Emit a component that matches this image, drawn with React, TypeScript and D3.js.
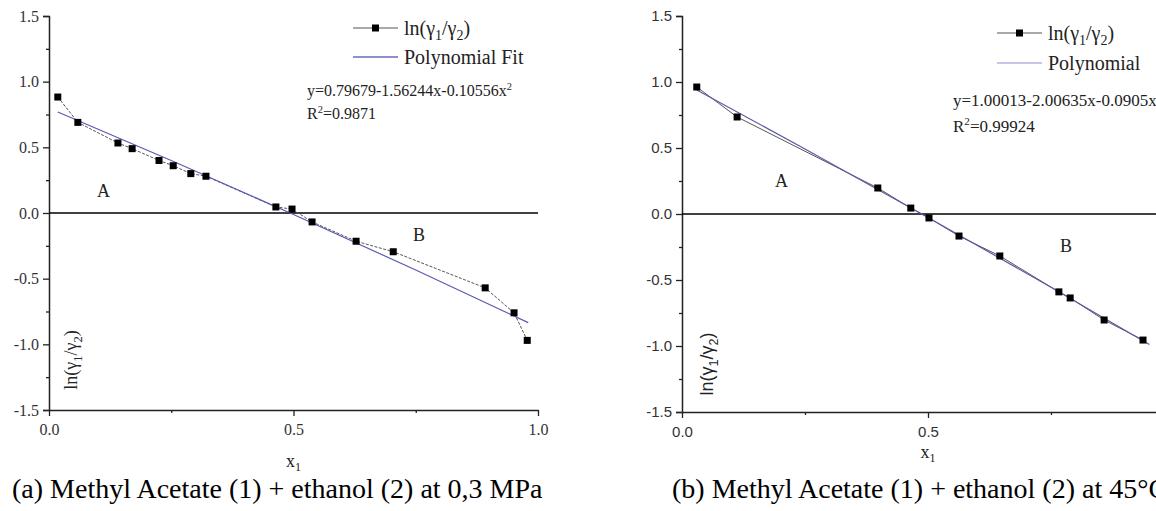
import * as d3 from 'd3';
import React, { useEffect, useRef } from 'react';

// axis ticks shared by both panels
const xTicks = [0, 0.5, 1.0];
const xMinorTicks = [0.25, 0.75];
const yTicks = [-1.5, -1.0, -0.5, 0.0, 0.5, 1.0, 1.5];
const yMinorTicks = [-1.25, -0.75, -0.25, 0.25, 0.75, 1.25];

// (a) 0,3 MPa measured points
const pointsA = [
    { x: 0.018, y: 0.883 },
    { x: 0.059, y: 0.69 },
    { x: 0.141, y: 0.533 },
    { x: 0.17, y: 0.49 },
    { x: 0.225, y: 0.40 },
    { x: 0.254, y: 0.36 },
    { x: 0.29, y: 0.30 },
    { x: 0.321, y: 0.28 },
    { x: 0.464, y: 0.046 },
    { x: 0.497, y: 0.03 },
    { x: 0.538, y: -0.068 },
    { x: 0.628, y: -0.215 },
    { x: 0.704, y: -0.295 },
    { x: 0.892, y: -0.57 },
    { x: 0.951, y: -0.76 },
    { x: 0.978, y: -0.97 }
];

// (a) polynomial fit
const fitA = [
    { x: 0.018, y: 0.769 },
    { x: 0.25, y: 0.40 },
    { x: 0.5, y: -0.011 },
    { x: 0.75, y: -0.434 },
    { x: 0.98, y: -0.835 }
];

// (b) 45 °C measured points
const pointsB = [
    { x: 0.03, y: 0.962 },
    { x: 0.112, y: 0.735 },
    { x: 0.398, y: 0.197 },
    { x: 0.465, y: 0.045 },
    { x: 0.502, y: -0.03 },
    { x: 0.563, y: -0.167 },
    { x: 0.646, y: -0.318 },
    { x: 0.766, y: -0.59 },
    { x: 0.789, y: -0.636 },
    { x: 0.858, y: -0.803 },
    { x: 0.937, y: -0.955 }
];

const fitB = [
    { x: 0.03, y: 0.94 },
    { x: 0.25, y: 0.493 },
    { x: 0.5, y: -0.026 },
    { x: 0.75, y: -0.555 },
    { x: 0.95, y: -0.988 }
];

const legendA = ['Polynomial Fit'];
const legendB = ['Polynomial'];
const equationA = ['y=0.79679-1.56244x-0.10556x', '0.9871'];
const equationB = ['y=1.00013-2.00635x-0.0905x', '0.99924'];
const captionA = '(a) Methyl Acetate (1) + ethanol (2) at 0,3 MPa';
const captionB = '(b) Methyl Acetate (1) + ethanol (2) at 45°C';

const SERIF = '"Liberation Serif", "Times New Roman", serif';
const SANS = '"Liberation Sans", Arial, sans-serif';

// writes ln(γ1/γ2) with subscripts
const lnGamma = (t, size) => {
    const sub = size * 0.7;
    const off = size * 0.25;
    t.append('tspan').text('ln(γ');
    t.append('tspan').attr('font-size', sub).attr('dy', off).text('1');
    t.append('tspan').attr('dy', -off).text('/γ');
    t.append('tspan').attr('font-size', sub).attr('dy', off).text('2');
    t.append('tspan').attr('dy', -off).text(')');
};

const drawPanel = (svg, p) => {
    const x = d3.scaleLinear().domain([0, 1]).range([p.left, p.right]);
    const y = d3.scaleLinear().domain([-1.5, 1.5]).range([p.bottom, p.top]);
    const g = svg.append('g');
    const fmt = d => d.toFixed(1);

    const yAxis = g.append('g')
        .attr('transform', 'translate(' + p.left + ',0)')
        .call(d3.axisLeft(y).tickValues(yTicks).tickFormat(fmt).tickSize(6).tickPadding(p.yPad));
    g.append('g')
        .attr('transform', 'translate(' + p.left + ',0)')
        .call(d3.axisLeft(y).tickValues(yMinorTicks).tickFormat('').tickSize(3))
        .select('.domain').remove();
    const xAxis = g.append('g')
        .attr('transform', 'translate(0,' + p.bottom + ')')
        .call(d3.axisBottom(x).tickValues(xTicks).tickFormat(fmt).tickSize(6).tickPadding(p.xPad).tickSizeOuter(0));
    g.append('g')
        .attr('transform', 'translate(0,' + p.bottom + ')')
        .call(d3.axisBottom(x).tickValues(xMinorTicks).tickFormat('').tickSize(3))
        .select('.domain').remove();
    [yAxis, xAxis].forEach(a => {
        a.selectAll('text').attr('font-family', p.tickFont).attr('font-size', p.tickSize).attr('fill', '#333');
        a.select('.domain').attr('stroke', '#222').attr('stroke-width', 1.5);
        a.selectAll('.tick line').attr('stroke', '#222').attr('stroke-width', 1.3);
    });
    g.selectAll('.tick line').attr('stroke', '#222').attr('stroke-width', 1.3);

    // zero line
    g.append('line')
        .attr('x1', p.left).attr('x2', p.right)
        .attr('y1', y(0)).attr('y2', y(0))
        .attr('stroke', '#000').attr('stroke-width', 1.6);

    const line = d3.line().x(d => x(d.x)).y(d => y(d.y));
    g.append('path').datum(p.points)
        .attr('fill', 'none').attr('stroke', '#555').attr('stroke-width', 1)
        .attr('stroke-dasharray', p.dash)
        .attr('d', line);
    g.append('path').datum(p.fit)
        .attr('fill', 'none').attr('stroke', p.fitColor).attr('stroke-width', 1.2)
        .attr('d', d3.line().x(d => x(d.x)).y(d => y(d.y)).curve(d3.curveMonotoneX));
    g.selectAll('rect.pt').data(p.points).enter().append('rect')
        .attr('class', 'pt')
        .attr('x', d => x(d.x) - 3.5).attr('y', d => y(d.y) - 3.5)
        .attr('width', 7).attr('height', 7).attr('fill', '#000');

    // legend
    const lg = p.legend;
    g.append('line').attr('x1', lg.x).attr('x2', lg.x + 45).attr('y1', lg.y1).attr('y2', lg.y1)
        .attr('stroke', '#555').attr('stroke-width', 1.2);
    g.append('rect').attr('x', lg.x + 19).attr('y', lg.y1 - 3.5).attr('width', 7).attr('height', 7).attr('fill', '#000');
    lnGamma(g.append('text').attr('x', lg.x + 51).attr('y', lg.y1 + 7)
        .attr('font-family', SERIF).attr('font-size', 20).attr('fill', '#222'), 20);
    g.append('line').attr('x1', lg.x).attr('x2', lg.x + 45).attr('y1', lg.y2).attr('y2', lg.y2)
        .attr('stroke', lg.color).attr('stroke-width', 1.4);
    g.append('text').attr('x', lg.x + 51).attr('y', lg.y2 + 7)
        .attr('font-family', SERIF).attr('font-size', 20).attr('fill', '#222').text(p.legendText[0]);

    // equation
    const eq = g.append('text').attr('x', p.eq.x).attr('y', p.eq.y)
        .attr('font-family', SERIF).attr('font-size', p.eq.size).attr('fill', '#222');
    eq.append('tspan').text(p.equation[0]);
    eq.append('tspan').attr('font-size', p.eq.size * 0.65).attr('dy', -p.eq.size * 0.4).text('2');
    const r2 = g.append('text').attr('x', p.eq.x).attr('y', p.eq.y + p.eq.gap)
        .attr('font-family', SERIF).attr('font-size', p.eq.size).attr('fill', '#222');
    r2.append('tspan').text('R');
    r2.append('tspan').attr('font-size', p.eq.size * 0.65).attr('dy', -p.eq.size * 0.4).text('2');
    r2.append('tspan').attr('dy', p.eq.size * 0.4).text('=' + p.equation[1]);

    // region letters
    g.append('text').attr('x', p.a[0]).attr('y', p.a[1]).attr('font-family', SERIF)
        .attr('font-size', 18).attr('fill', '#222').text('A');
    g.append('text').attr('x', p.b[0]).attr('y', p.b[1]).attr('font-family', SERIF)
        .attr('font-size', 18).attr('fill', '#222').text('B');

    // axis titles
    lnGamma(g.append('text')
        .attr('transform', 'translate(' + p.yTitle[0] + ',' + p.yTitle[1] + ') rotate(-90)')
        .attr('text-anchor', 'middle').attr('font-family', p.tickFont).attr('font-size', 18).attr('fill', '#222'), 18);
    const xt = g.append('text').attr('x', x(0.5)).attr('y', p.xTitleY).attr('text-anchor', 'middle')
        .attr('font-family', SERIF).attr('font-size', 18).attr('fill', '#222');
    xt.append('tspan').text('x');
    xt.append('tspan').attr('font-size', 12).attr('dy', 4).text('1');

    g.append('text').attr('x', p.captionX).attr('y', 498)
        .attr('font-family', SERIF).attr('font-size', 28).attr('fill', '#000').text(p.caption);
};

const App = () => {
    const svgRef = useRef(null);

    useEffect(() => {
        const svg = d3.select(svgRef.current);
        svg.selectAll('*').remove();
        drawPanel(svg, {
            left: 49, right: 538, top: 16, bottom: 410,
            tickFont: SERIF, tickSize: 16, yPad: 4, xPad: 8,
            points: pointsA, fit: fitA, dash: '3,1.5', fitColor: '#5a5ab4',
            legend: { x: 353, y1: 28, y2: 57, color: '#6a6ab8' }, legendText: legendA,
            eq: { x: 307, y: 96, size: 16, gap: 23 }, equation: equationA,
            a: [97, 197], b: [413, 241],
            yTitle: [77, 360], xTitleY: 467,
            captionX: 12, caption: captionA
        });
        drawPanel(svg, {
            left: 682, right: 1174, top: 16, bottom: 412,
            tickFont: SANS, tickSize: 15, yPad: 4, xPad: 8,
            points: pointsB, fit: fitB, dash: null, fitColor: '#5a5aa8',
            legend: { x: 997, y1: 33, y2: 63, color: '#b4b4dc' }, legendText: legendB,
            eq: { x: 953, y: 106, size: 17, gap: 26 }, equation: equationB,
            a: [775, 187], b: [1060, 252],
            yTitle: [713, 364], xTitleY: 458,
            captionX: 672, caption: captionB
        });
    }, []);

    return (
        <svg ref={svgRef} width={1156} height={511}
            style={{ position: 'absolute', left: 0, top: 0, background: '#fff' }} />
    );
};

export default App;
